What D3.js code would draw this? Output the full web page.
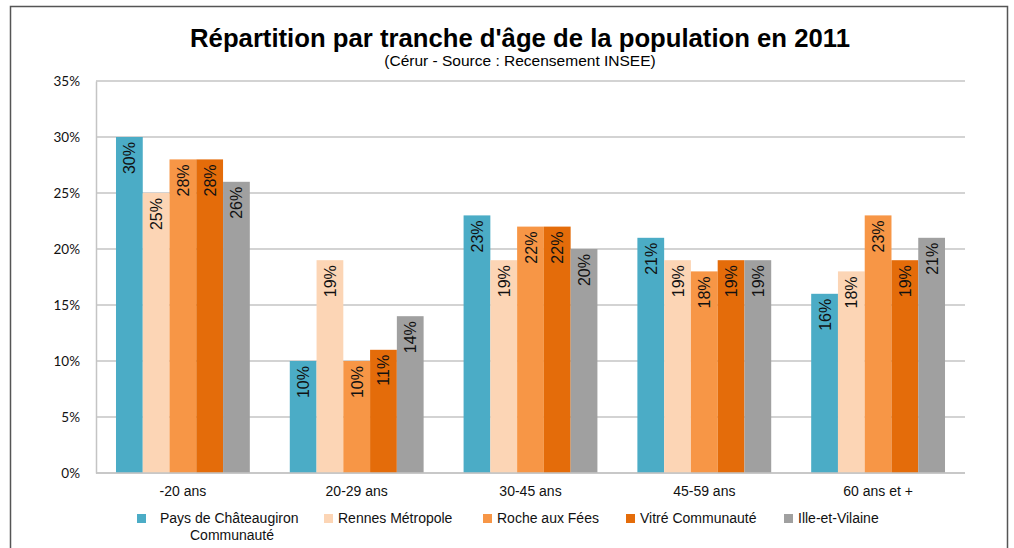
<!DOCTYPE html>
<html>
<head>
<meta charset="utf-8">
<script src="https://cdn.jsdelivr.net/npm/d3@7"></script>
<style>
  body { margin: 0; background: #fff; }
  svg { display: block; }
</style>
</head>
<body>
<div class="chart"></div>
<script>
// data
var categories = ["-20 ans", "20-29 ans", "30-45 ans", "45-59 ans", "60 ans et +"];
var seriesNames = ["Pays de Châteaugiron Communauté", "Rennes Métropole", "Roche aux Fées", "Vitré Communauté", "Ille-et-Vilaine"];
var chateaugiron = [30, 10, 23, 21, 16];
var rennes = [25, 19, 19, 19, 18];
var rocheAuxFees = [28, 10, 22, 18, 23];
var vitre = [28, 11, 22, 19, 19];
var illeEtVilaine = [26, 14, 20, 19, 21];
var yTicks = [0, 5, 10, 15, 20, 25, 30, 35];

var seriesValues = [chateaugiron, rennes, rocheAuxFees, vitre, illeEtVilaine];
var colors = ["#4bacc6", "#fcd5b5", "#f79646", "#e46c0a", "#a0a0a0"];

var svgWidth = 1014, svgHeight = 548;
var margin = { top: 81, left: 96, right: 49, bottom: 75 };
var width = svgWidth - margin.left - margin.right;
var height = svgHeight - margin.top - margin.bottom;

var svg = d3.select(".chart").append("svg")
    .attr("width", svgWidth)
    .attr("height", svgHeight);

// outer frame
svg.append("path")
    .attr("d", "M10.5,560 V6.5 H1007.5 V560")
    .attr("fill", "none")
    .attr("stroke", "#555")
    .attr("stroke-width", 1.5);

// title
svg.append("text")
    .attr("x", 520).attr("y", 47)
    .attr("text-anchor", "middle")
    .style("font-family", "'Liberation Sans', Arial, sans-serif")
    .style("font-weight", "bold")
    .style("font-size", "25.7px")
    .text("Répartition par tranche d'âge de la population en 2011");

svg.append("text")
    .attr("x", 520).attr("y", 66)
    .attr("text-anchor", "middle")
    .style("font-family", "'Liberation Sans', Arial, sans-serif")
    .style("font-size", "15.5px")
    .text("(Cérur - Source : Recensement INSEE)");

var chartGroup = svg.append("g")
    .attr("transform", `translate(${margin.left}, ${margin.top})`);

var x0 = d3.scaleBand().domain(categories).range([0, width]).paddingInner(0.23).paddingOuter(0.115);
var x1 = d3.scaleBand().domain(d3.range(seriesNames.length)).range([0, x0.bandwidth()]);
var y = d3.scaleLinear().domain([0, 35]).range([height, 0]);

// gridlines
chartGroup.append("g")
    .selectAll("line")
    .data(yTicks)
    .enter()
    .append("line")
    .attr("x1", 0).attr("x2", width)
    .attr("y1", d => y(d)).attr("y2", d => y(d))
    .attr("stroke", "#c4c4c4")
    .attr("stroke-width", 1.5);

// y axis
var leftAxis = d3.axisLeft(y).tickValues(yTicks).tickSize(0).tickPadding(16).tickFormat(d => d + "%");
var yAxis = chartGroup.append("g").call(leftAxis);
yAxis.select(".domain").attr("stroke", "#c4c4c4").attr("stroke-width", 1.5);
yAxis.selectAll("text")
    .style("font-family", "Lato, 'Open Sans', sans-serif")
    .style("font-size", "13.5px")
    .attr("fill", "#111");

// x axis
var bottomAxis = d3.axisBottom(x0).tickSize(0).tickPadding(13);
var xAxis = chartGroup.append("g")
    .attr("transform", `translate(0, ${height})`)
    .call(bottomAxis);
xAxis.select(".domain").remove();
xAxis.selectAll("text")
    .style("font-family", "'Liberation Sans Narrow', 'Liberation Sans', sans-serif")
    .style("font-size", "14px")
    .attr("fill", "#111");

// bars
var groups = chartGroup.selectAll(".cat")
    .data(categories)
    .enter()
    .append("g")
    .attr("class", "cat")
    .attr("transform", d => `translate(${x0(d)}, 0)`);

groups.selectAll("rect")
    .data((d, i) => seriesValues.map((s, j) => ({ s: j, v: s[i] })))
    .enter()
    .append("rect")
    .attr("x", d => x1(d.s))
    .attr("y", d => y(d.v))
    .attr("width", x1.bandwidth())
    .attr("height", d => height - y(d.v))
    .attr("fill", d => colors[d.s]);

groups.selectAll(".lbl")
    .data((d, i) => seriesValues.map((s, j) => ({ s: j, v: s[i] })))
    .enter()
    .append("text")
    .attr("class", "lbl")
    .attr("transform", d => `translate(${x1(d.s) + x1.bandwidth() / 2 + 6}, ${y(d.v) + 5}) rotate(-90)`)
    .attr("text-anchor", "end")
    .style("font-family", "'Liberation Sans', Arial, sans-serif")
    .style("font-size", "16px")
    .attr("fill", "#111")
    .text(d => d.v + "%");

// bottom line over the bars
chartGroup.append("line")
    .attr("x1", 0).attr("x2", width)
    .attr("y1", height).attr("y2", height)
    .attr("stroke", "#c4c4c4")
    .attr("stroke-width", 1.5);

// legend
var legendX = [137, 324, 483, 626, 784];
var legend = svg.append("g");
seriesNames.forEach(function (name, i) {
    var g = legend.append("g").attr("transform", `translate(${legendX[i]}, 514)`);
    g.append("rect").attr("width", 9).attr("height", 9).attr("fill", colors[i]);
    var t = g.append("text")
        .attr("y", 9)
        .style("font-family", "'Liberation Sans Narrow', 'Liberation Sans', sans-serif")
        .style("font-size", "14px")
        .attr("fill", "#111");
    if (i === 0) {
        t.append("tspan").attr("x", 23).text("Pays de Châteaugiron");
        t.append("tspan").attr("x", 53).attr("dy", 17).text("Communauté");
    } else {
        t.attr("x", 14).text(name);
    }
});
</script>
</body>
</html>
